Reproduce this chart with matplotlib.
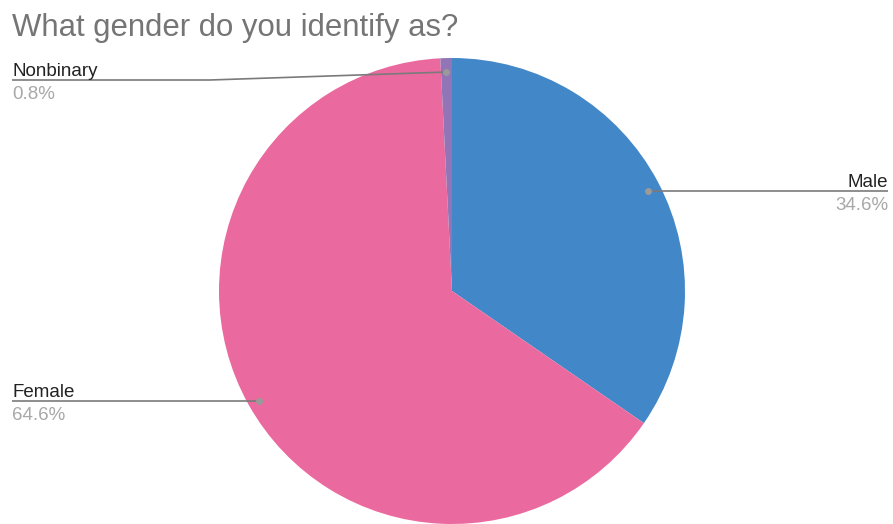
import matplotlib.pyplot as plt
import numpy as np

# survey answers
labels = ['Male', 'Female', 'Nonbinary']
shares = [34.6, 64.6, 0.8]
colors = ['#4287c8', '#ea6a9f', '#9275b6']

W, H = 893, 524
fig = plt.figure(figsize=(W / 100, H / 100), dpi=100)
ax = fig.add_axes([0, 0, 1, 1])

# pie drawn in pixel-like coordinates (y measured from the bottom)
cx, cy, r = 452, H - 291, 233
wedges, _ = ax.pie(shares, colors=colors, startangle=90, counterclock=False,
                   center=(cx, cy), radius=r, wedgeprops=dict(linewidth=0))

ax.set_xlim(0, W)
ax.set_ylim(0, H)
ax.set_aspect('equal')
ax.axis('off')

font = 'Liberation Sans'
line_kw = dict(color='#7a7a7a', linewidth=1.2, solid_capstyle='butt')
name_kw = dict(fontsize=13.5, color='#222222', family=font)
pct_kw = dict(fontsize=13.5, color='#a8a8a8', family=font)

# label layout: text anchor x, line y (pixels from top), alignment
layout = {
    'Male': (888, 191, 'right'),
    'Female': (12, 401, 'left'),
    'Nonbinary': (12, 80, 'left'),
}

for w, lab, val in zip(wedges, labels, shares):
    mid = np.deg2rad((w.theta1 + w.theta2) / 2)
    px = cx + 0.95 * r * np.cos(mid)
    tx, ly, ha = layout[lab]
    ly = H - ly
    if lab == 'Nonbinary':
        py = cy + 0.94 * r * np.sin(mid)
        ax.plot([tx, 210, px], [ly, ly, py], **line_kw)
    else:
        py = ly
        ax.plot([tx, px], [ly, ly], **line_kw)
    ax.plot(px, py, 'o', color='#9a9a9a', markersize=4, zorder=5)
    ax.text(tx, ly + 4, lab, ha=ha, va='baseline', **name_kw)
    ax.text(tx, ly - 6, f'{val}%', ha=ha, va='top', **pct_kw)

fig.text(12 / W, 1 - 36 / H, 'What gender do you identify as?', fontsize=22.4,
         color='#757575', family=font, ha='left', va='baseline')

fig.savefig('out.png', dpi=100)
